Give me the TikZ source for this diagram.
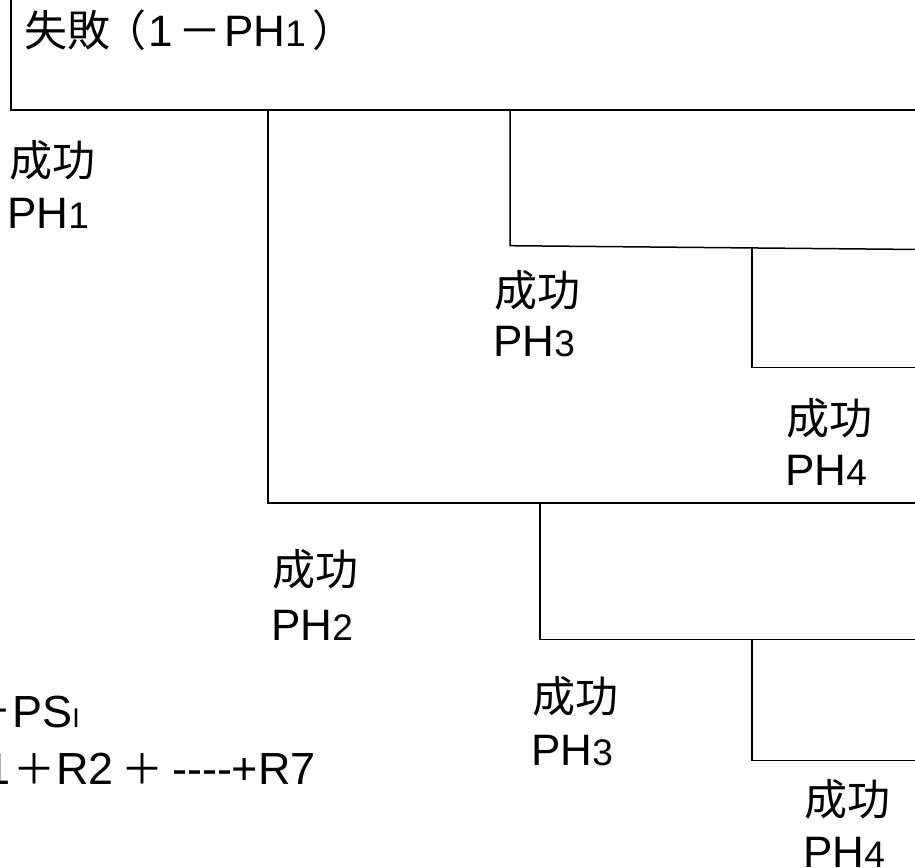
\documentclass[tikz,border=0pt]{standalone}
\usepackage{fontspec}
\setmainfont{Liberation Sans}
\newfontfamily\jp{Noto Sans CJK JP}
\newcommand{\sm}[1]{{\fontsize{37}{37}\selectfont #1}}
\begin{document}
\begin{tikzpicture}[x=1pt,y=-1pt,
  ln/.style={line width=1.5pt,line cap=rect},
  lbl/.style={inner sep=0pt,anchor=base west,font=\fontsize{44}{50}\selectfont},
  jlbl/.style={inner sep=0pt,anchor=base west,font=\fontsize{43}{50}\selectfont\jp},
  jc/.style={inner sep=0pt,anchor=base,font=\fontsize{43}{50}\selectfont\jp},
  flbl/.style={inner sep=0pt,anchor=base west,font=\fontsize{45}{50}\selectfont}]
\useasboundingbox (0,0) rectangle (915,867);
\clip (0,0) rectangle (915,867);
% coordinates
\coordinate (tl) at (11,-5);
\coordinate (b1) at (11,110);
\coordinate (e1) at (920,110);
\coordinate (v1t) at (268,110);
\coordinate (v1b) at (268,503);
\coordinate (e2) at (920,503);
\coordinate (v2t) at (510,110);
\coordinate (v2b) at (510,245.7);
\coordinate (e3) at (920,249.5);
\coordinate (v3t) at (752,248.3);
\coordinate (v3b) at (752,367.5);
\coordinate (e4) at (920,367.5);
\coordinate (v4t) at (540,503);
\coordinate (v4b) at (540,639.3);
\coordinate (e5) at (920,639.3);
\coordinate (v5t) at (752,639.3);
\coordinate (v5b) at (752,760.5);
\coordinate (e6) at (920,760.5);
% lines
\draw[ln] (tl) -- (b1) -- (e1);
\draw[ln] (v1t) -- (v1b) -- (e2);
\draw[ln] (v2t) -- (v2b) -- (e3);
\draw[ln] (v3t) -- (v3b) -- (e4);
\draw[ln] (v4t) -- (v4b) -- (e5);
\draw[ln] (v5t) -- (v5b) -- (e6);
% title
\node[jlbl] (ti1) at (24,47) {失敗};
\node[jc] (ti2) at (125,47) {（};
\node[lbl] (ti3) at (148,47) {1};
\node[jc] (ti4) at (200,47) {－};
\node[lbl] (ti5) at (224,47) {PH\sm{1}};
\node[jc] (ti6) at (334,47) {）};
% labels
\node[jlbl] (s1a) at (9,176) {成功};
\node[lbl] (s1b) at (7,228) {PH\sm{1}};
\node[jlbl] (s3a) at (494,306) {成功};
\node[lbl] (s3b) at (493,356) {PH\sm{3}};
\node[jlbl] (s4a) at (786,434) {成功};
\node[lbl] (s4b) at (785,485) {PH\sm{4}};
\node[jlbl] (s2a) at (272,585) {成功};
\node[lbl] (s2b) at (271,640) {PH\sm{2}};
\node[jlbl] (t3a) at (532,712) {成功};
\node[lbl] (t3b) at (531,765) {PH\sm{3}};
\node[jlbl] (t4a) at (804,815) {成功};
\node[lbl] (t4b) at (803,867) {PH\sm{4}};
% formula fragments
\node[flbl,anchor=base east] (f1) at (80,727) {{\jp ＋}PS{\fontsize{27}{27}\selectfont I}};
\node[flbl] (f2a) at (-15,784) {1};
\node[jc,font=\fontsize{42}{50}\selectfont\jp] (f2b) at (34.5,784) {＋};
\node[flbl] (f2c) at (56,784) {R2};
\node[jc,font=\fontsize{42}{50}\selectfont\jp] (f2d) at (142.5,784) {＋};
\node[flbl,anchor=base east] (f2e) at (316,784) {-{}-{}-{}-+R7};
\end{tikzpicture}
\end{document}
